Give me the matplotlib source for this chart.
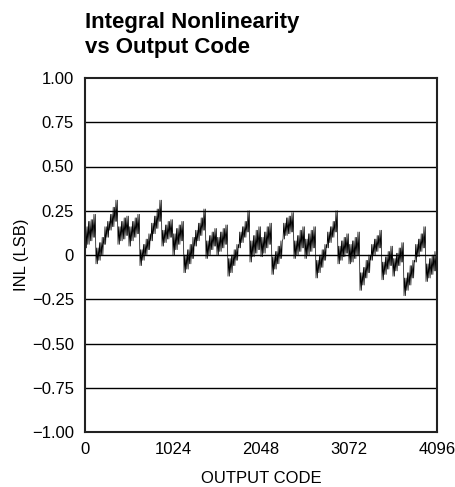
import matplotlib
matplotlib.use("Agg")
import matplotlib.pyplot as plt
from matplotlib import font_manager

names = {f.name for f in font_manager.fontManager.ttflist}
narrow = "Liberation Sans Narrow" if "Liberation Sans Narrow" in names else "Liberation Sans"
plt.rcParams['font.family'] = [narrow, 'DejaVu Sans']

# INL per 32-code bin: low and high excursion (LSB)
bin_width = 32
inl_lo = [
    0.04, 0.06, 0.08, 0.10,
    -0.05, -0.03, 0.00, 0.06, 0.10, 0.14, 0.16, 0.19,
    0.06, 0.08, 0.09, 0.11, 0.05, 0.08, 0.10, 0.12,
    -0.06, -0.03, 0.00, 0.03, 0.08, 0.12, 0.15, 0.19,
    0.05, 0.07, 0.09, 0.10, 0.00, 0.03, 0.06, 0.08,
    -0.10, -0.08, -0.05, -0.02, 0.05, 0.08, 0.11, 0.14,
    -0.02, 0.00, 0.03, 0.05, 0.00, 0.02, 0.04, 0.06,
    -0.12, -0.10, -0.06, -0.03, 0.04, 0.07, 0.10, 0.13,
    -0.04, -0.01, 0.01, 0.03, -0.01, 0.01, 0.04, 0.06,
    -0.11, -0.08, -0.05, -0.02, 0.09, 0.11, 0.12, 0.13,
    -0.02, 0.00, 0.02, 0.04, -0.02, 0.00, 0.02, 0.04,
    -0.13, -0.10, -0.07, -0.03, 0.04, 0.07, 0.10, 0.13,
    -0.05, -0.03, -0.01, 0.01, -0.05, -0.04, -0.02, 0.00,
    -0.20, -0.17, -0.13, -0.10, -0.03, 0.00, 0.02, 0.04,
    -0.14, -0.11, -0.08, -0.06, -0.12, -0.09, -0.06, -0.04,
    -0.23, -0.20, -0.17, -0.13, -0.04, -0.01, 0.02, 0.04,
    -0.15, -0.13, -0.11, -0.09,
]
inl_hi = [
    0.16, 0.19, 0.20, 0.23,
    0.04, 0.07, 0.10, 0.16, 0.19, 0.23, 0.27, 0.31,
    0.16, 0.19, 0.21, 0.22, 0.16, 0.19, 0.21, 0.23,
    0.03, 0.06, 0.09, 0.12, 0.18, 0.22, 0.26, 0.31,
    0.14, 0.17, 0.19, 0.20, 0.12, 0.15, 0.17, 0.19,
    0.00, 0.03, 0.06, 0.10, 0.14, 0.18, 0.21, 0.26,
    0.08, 0.11, 0.13, 0.15, 0.10, 0.13, 0.15, 0.17,
    -0.02, 0.00, 0.03, 0.06, 0.13, 0.16, 0.19, 0.25,
    0.08, 0.11, 0.14, 0.16, 0.10, 0.13, 0.16, 0.18,
    -0.01, 0.02, 0.05, 0.08, 0.18, 0.21, 0.22, 0.24,
    0.08, 0.11, 0.14, 0.16, 0.09, 0.12, 0.14, 0.16,
    -0.03, 0.00, 0.03, 0.06, 0.13, 0.16, 0.19, 0.25,
    0.05, 0.08, 0.10, 0.12, 0.06, 0.08, 0.10, 0.13,
    -0.10, -0.07, -0.03, 0.00, 0.06, 0.09, 0.11, 0.14,
    -0.04, -0.01, 0.02, 0.05, -0.02, 0.01, 0.04, 0.07,
    -0.13, -0.10, -0.06, -0.03, 0.06, 0.09, 0.12, 0.16,
    -0.05, -0.02, 0.00, 0.02,
]

x_ticks = [0, 1024, 2048, 3072, 4096]
y_ticks = [-1.00, -0.75, -0.50, -0.25, 0, 0.25, 0.50, 0.75, 1.00]
y_labels = ["\u22121.00", "\u22120.75", "\u22120.50", "\u22120.25", "0",
            "0.25", "0.50", "0.75", "1.00"]

# scribble trace: each bin swings low/high twice
xs, ys = [], []
for i, (lo, hi) in enumerate(zip(inl_lo, inl_hi)):
    x0 = i * bin_width
    xs += [x0, x0 + bin_width * 0.25, x0 + bin_width * 0.5, x0 + bin_width * 0.75]
    ys += [lo, hi, lo, hi]

fig = plt.figure(figsize=(4.55, 4.87), dpi=100)
ax = fig.add_axes([85 / 455, 1 - 432 / 487, 352 / 455, 354 / 487])

for y in y_ticks[1:-1]:
    ax.axhline(y, color="black", lw=1.0, zorder=1)
ax.plot(xs, ys, color="black", lw=0.5, zorder=2)

ax.set_xlim(0, 4096)
ax.set_ylim(-1, 1)
ax.set_xticks(x_ticks)
ax.set_xticklabels([str(t) for t in x_ticks])
ax.set_yticks(y_ticks)
ax.set_yticklabels(y_labels)
ax.tick_params(axis="y", length=0, labelsize=12, pad=8)
ax.tick_params(axis="x", length=0, labelsize=12, pad=7)
for s in ax.spines.values():
    s.set_linewidth(1.5)
    s.set_color("#222222")

ax.set_xlabel("OUTPUT CODE", fontsize=12, labelpad=10)
ax.set_ylabel("INL (LSB)", fontsize=12, labelpad=2)

fig.text(85 / 455, 1 - 28 / 487, "Integral Nonlinearity",
         fontsize=16, fontweight="bold", ha="left", va="baseline")
fig.text(85 / 455, 1 - 53 / 487, "vs Output Code",
         fontsize=16, fontweight="bold", ha="left", va="baseline")

fig.savefig("out.png", dpi=100)
